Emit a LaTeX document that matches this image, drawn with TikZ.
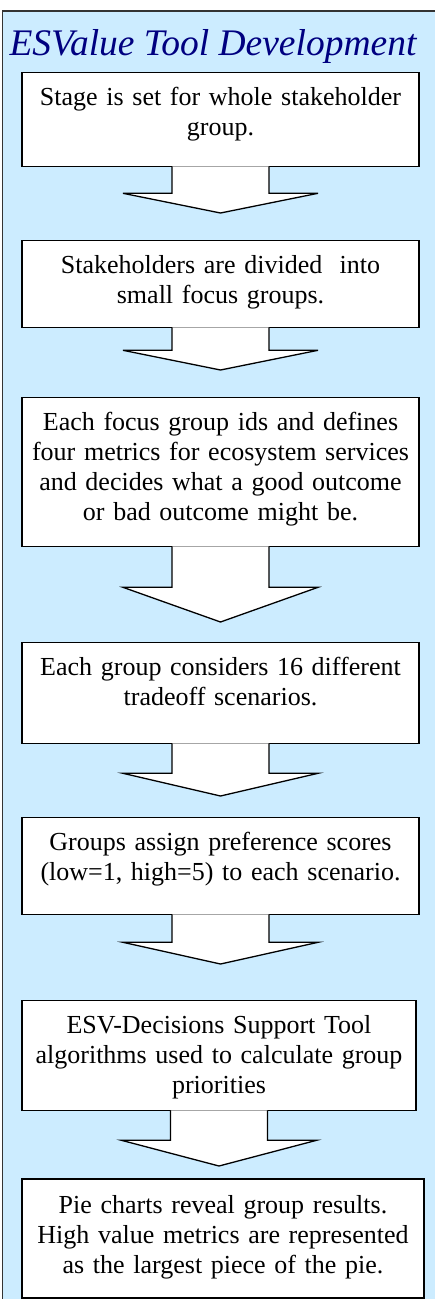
\documentclass[tikz,border=0pt]{standalone}
\usepackage{fontspec}
\setmainfont{Liberation Serif}
\usetikzlibrary{calc}
\definecolor{panelblue}{RGB}{204,236,255}
\definecolor{titleblue}{RGB}{0,0,128}
\newcommand{\flowarrow}[4]{%
\draw[flowarrow] ($(#1.south)+(-48.5,-1)$) -- ++(0,#3+1) -- ++(-49,0) -- ($(#1.south |- #2.north)+(0,-#4)$) -- ($(#1.south)+(97.5,#3)$) -- ++(-49,0) -- ++(0,-#3-1);
}

\begin{document}
\begin{tikzpicture}[x=1pt,y=-1pt,
	stagebox/.style={draw, fill=white, line width=1.3pt, inner sep=0pt, anchor=north, align=center, text height=33pt, font=\fontsize{26}{30}\selectfont},
	flowarrow/.style={draw, fill=white, line width=1.3pt, line join=miter}]
\useasboundingbox (0,0) rectangle (435,1299);
\clip (0,0) rectangle (435,1299);
\draw[fill=panelblue, draw=black!80, line width=1.2pt] (2.5,11) rectangle (450,1320);
\node[anchor=base, font=\fontsize{37.5}{40}\selectfont\itshape, text=titleblue] (title) at (213,55) {ESValue Tool Development};
\node[stagebox, text width=397pt, text depth=61pt] (stage) at (220.5,72) {Stage is set for whole stakeholder\\group.};
\node[stagebox, text width=397pt, text depth=54pt] (divide) at (220.5,240) {Stakeholders are divided~ into\\small focus groups.};
\node[stagebox, text width=397pt, text depth=116pt] (metrics) at (220.5,397) {Each focus group ids and defines\\four metrics for ecosystem services\\and decides what a good outcome\\or bad outcome might be.};
\node[stagebox, text width=397pt, text depth=68pt] (scenarios) at (220.5,642) {Each group considers 16 different\\tradeoff scenarios.};
\node[stagebox, text width=397pt, text depth=64pt] (scores) at (220.5,817) {Groups assign preference scores\\(low=1, high=5) to each scenario.};
\node[stagebox, text width=394pt, text depth=77pt] (priorities) at (219,1000) {ESV-Decisions Support Tool\\algorithms used to calculate group\\priorities};
\node[stagebox, text width=402pt, text height=34pt, text depth=85pt, line width=2pt] (pies) at (223,1178) {Pie charts reveal group results.\\High value metrics are represented\\as the largest piece of the pie.};
\flowarrow{stage}{divide}{26}{27}
\flowarrow{divide}{metrics}{22}{27}
\flowarrow{metrics}{scenarios}{40}{20}
\flowarrow{scenarios}{scores}{29}{21}
\flowarrow{scores}{priorities}{27}{36}
\flowarrow{priorities}{pies}{29}{12}
\end{tikzpicture}
\end{document}
